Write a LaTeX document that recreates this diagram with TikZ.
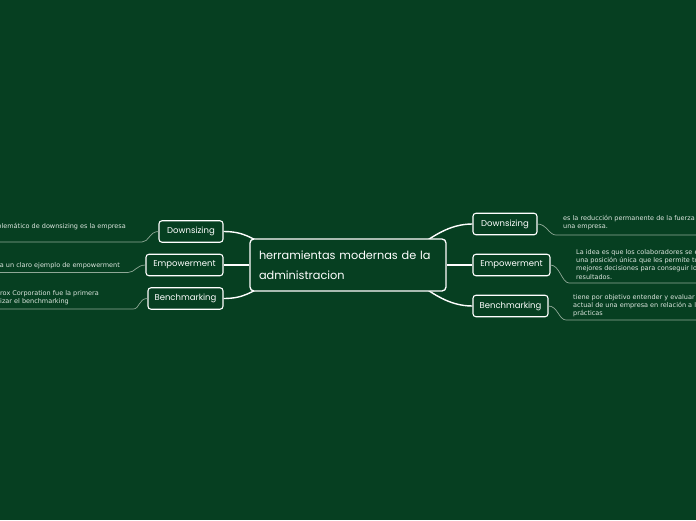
\documentclass[tikz,border=0pt]{standalone}
\usepackage{fontspec}
\setmainfont{DejaVu Sans}
\newfontfamily\handfont{Poppins}
\usetikzlibrary{backgrounds}
\pgfdeclarelayer{canvas}
\pgfsetlayers{canvas,background,main}
\definecolor{bg}{HTML}{063F21}
\definecolor{leaftext}{HTML}{DDE6DF}
\definecolor{leafline}{HTML}{8FA897}
\begin{document}
\begin{tikzpicture}[x=1pt,y=-1pt,
  topic/.style={draw=white, line width=1.1pt, rounded corners=3pt, fill=bg, text=white,
    font=\handfont\fontsize{8.5}{10}\selectfont, inner sep=0pt, minimum height=21.5},
  central/.style={draw=white, line width=1.3pt, rounded corners=4pt, fill=bg, text=white,
    minimum width=196, minimum height=52, text width=178, align=left, inner sep=0pt,
    font=\handfont\fontsize{11.3}{20}\selectfont},
  leaf/.style={text=leaftext, inner sep=0pt, align=left, font=\fontsize{6.5}{8.3}\selectfont},
  conn/.style={draw=white, line width=1.4pt},
  uline/.style={draw=leafline, line width=0.7pt}]
\begin{pgfonlayer}{canvas}
\fill[bg] (0,0) rectangle (696,520);
\end{pgfonlayer}
\useasboundingbox (0,0) rectangle (696,520);
\clip (0,0) rectangle (696,520);

% central
\node[central] (c) at (348,265) {herramientas modernas de la\\administracion};

% left topics
\node[topic, minimum width=64] (l1) at (191,231.5) {Downsizing};
\node[topic, minimum width=77] (l2) at (184.5,265) {Empowerment};
\node[topic, minimum width=75] (l3) at (185.5,298.5) {Benchmarking};
% right topics
\node[topic, minimum width=64] (r1) at (505,224) {Downsizing};
\node[topic, minimum width=77] (r2) at (511.5,265) {Empowerment};
\node[topic, minimum width=75] (r3) at (510.5,306) {Benchmarking};

% leaf texts
\node[leaf, anchor=east] (t1) at (126,227) {blemático de downsizing es la empresa};
\node[leaf, anchor=east] (t2) at (120,265.5) {a un claro ejemplo de empowerment};
\node[leaf, anchor=north west] (t3) at (0,290.5) {rox Corporation fue la primera\\izar el benchmarking};
\node[leaf, anchor=north west] (t4) at (563,215) {es la reducción permanente de la fuerza\\una empresa.};
\node[leaf, anchor=north west] (t5) at (576,249) {La idea es que los colaboradores se e\\una posición única que les permite to\\mejores decisiones para conseguir lo\\resultados.};
\node[leaf, anchor=north west] (t6) at (573,294) {tiene por objetivo entender y evaluar\\actual de una empresa en relación a l\\prácticas};

% underline coordinates
\coordinate (a1) at (0,242);   \coordinate (b1) at (142,242);
\coordinate (a2) at (0,272.5); \coordinate (b2) at (128,272.5);
\coordinate (a3) at (0,309);   \coordinate (b3) at (133,309);
\coordinate (a4) at (696,235); \coordinate (b4) at (556,235);
\coordinate (a5) at (696,283); \coordinate (b5) at (569,283);
\coordinate (a6) at (696,320); \coordinate (b6) at (566,320);

\begin{pgfonlayer}{background}
\draw[conn] (l1.east) .. controls +(22,0) and +(-14,-5) .. ([shift={(16,6)}]c.north west);
\draw[conn] (l2.east) -- (c.west);
\draw[conn] (l3.east) .. controls +(22,0) and +(-14,5) .. ([shift={(16,-6)}]c.south west);
\draw[conn] (r1.west) .. controls +(-24,0) and +(12,-7) .. ([shift={(-26,6)}]c.north east);
\draw[conn] (r2.west) -- (c.east);
\draw[conn] (r3.west) .. controls +(-24,0) and +(12,7) .. ([shift={(-26,-6)}]c.south east);
\end{pgfonlayer}

\draw[uline] (l1.west) .. controls +(-9,0) and +(7,0) .. (b1) -- (a1);
\draw[uline] (l2.west) .. controls +(-9,0) and +(7,0) .. (b2) -- (a2);
\draw[uline] (l3.west) .. controls +(-9,0) and +(7,0) .. (b3) -- (a3);
\draw[uline] (r1.east) .. controls +(9,0) and +(-7,0) .. (b4) -- (a4);
\draw[uline] (r2.east) .. controls +(9,0) and +(-7,0) .. (b5) -- (a5);
\draw[uline] (r3.east) .. controls +(9,0) and +(-7,0) .. (b6) -- (a6);
\end{tikzpicture}
\end{document}
